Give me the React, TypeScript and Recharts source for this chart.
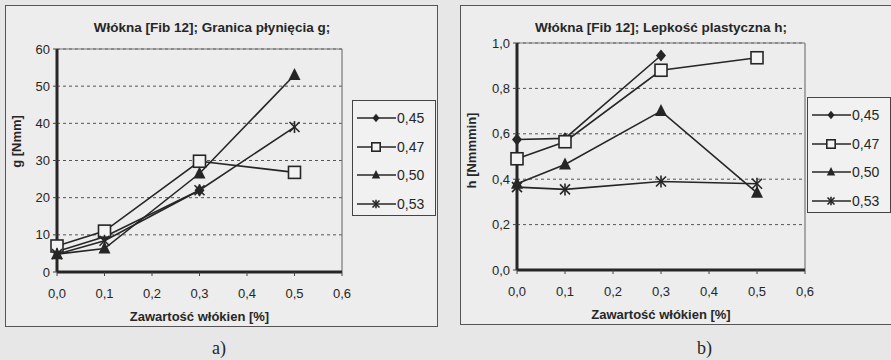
import React from "react";
import {
  LineChart,
  Line,
  XAxis,
  YAxis,
  CartesianGrid,
  ReferenceLine,
} from "recharts";

// fibre content [%]
const FIBRE = [0, 0.1, 0.3, 0.5];
const SERIES_NAMES = ["0,45", "0,47", "0,50", "0,53"];
const X_TICKS = [0, 0.1, 0.2, 0.3, 0.4, 0.5, 0.6];

// a) yield value g [Nmm]
const G_045 = [5.5, 9.5, 22, null];
const G_047 = [7, 11, 29.8, 26.8];
const G_050 = [4.8, 6.3, 26.5, 53];
const G_053 = [4.8, 8.4, 22, 39];
const G_TICKS = [0, 10, 20, 30, 40, 50, 60];

// b) plastic viscosity h [Nmmmin]
const H_045 = [0.575, 0.58, 0.945, null];
const H_047 = [0.49, 0.565, 0.88, 0.935];
const H_050 = [0.38, 0.465, 0.7, 0.34];
const H_053 = [0.365, 0.355, 0.39, 0.38];
const H_TICKS = [0, 0.2, 0.4, 0.6, 0.8, 1.0];

const KEYS = ["s45", "s47", "s50", "s53"];
const MARKERS = ["diamond", "square", "triangle", "cross"];
const FONT = '"Liberation Sans", Arial, sans-serif';
const INK = "#262626";

function buildRows(cols: (number | null)[][]) {
  return FIBRE.map((x, i) => ({
    x,
    s45: cols[0][i],
    s47: cols[1][i],
    s50: cols[2][i],
    s53: cols[3][i],
  }));
}

function Marker({ kind, cx, cy, s = 1 }: { kind: string; cx: number; cy: number; s?: number }) {
  if (kind === "diamond")
    return (
      <polygon
        points={`${cx},${cy - 6 * s} ${cx + 5 * s},${cy} ${cx},${cy + 6 * s} ${cx - 5 * s},${cy}`}
        fill={INK}
      />
    );
  if (kind === "square")
    return (
      <rect
        x={cx - 6 * s}
        y={cy - 6 * s}
        width={12 * s}
        height={12 * s}
        fill="#f3f3f3"
        stroke={INK}
        strokeWidth={1.6}
      />
    );
  if (kind === "triangle")
    return (
      <polygon
        points={`${cx},${cy - 7 * s} ${cx + 6 * s},${cy + 5 * s} ${cx - 6 * s},${cy + 5 * s}`}
        fill={INK}
      />
    );
  return (
    <g stroke={INK} strokeWidth={1.6}>
      <line x1={cx - 5 * s} y1={cy - 5 * s} x2={cx + 5 * s} y2={cy + 5 * s} />
      <line x1={cx - 5 * s} y1={cy + 5 * s} x2={cx + 5 * s} y2={cy - 5 * s} />
      <line x1={cx} y1={cy - 6 * s} x2={cx} y2={cy + 6 * s} />
    </g>
  );
}

function LegendBox({ left, top }: { left: number; top: number }) {
  return (
    <div
      style={{
        position: "absolute",
        left,
        top,
        width: 84,
        height: 116,
        border: "1.5px solid #444",
        background: "#f1f1f1",
        boxSizing: "border-box",
        fontFamily: FONT,
        fontSize: 14,
        color: INK,
      }}
    >
      {SERIES_NAMES.map((name, i) => (
        <div
          key={name}
          style={{ position: "absolute", left: 3, top: 9 + i * 28.5, height: 16, display: "flex", alignItems: "center" }}
        >
          <svg width={41} height={16}>
            <line x1={1} y1={8} x2={40} y2={8} stroke={INK} strokeWidth={1.6} />
            <Marker kind={MARKERS[i]} cx={20} cy={8} s={0.7} />
          </svg>
          <span>{name}</span>
        </div>
      ))}
    </div>
  );
}

type PanelProps = {
  left: number;
  width: number;
  height: number;
  rows: any[];
  yMax: number;
  yTicks: number[];
  yFmt: (v: number) => string;
  plotTop: number;
  plotRight: number;
  plotLeft: number;
  title: string;
  titleX: number;
  yLabel: string;
  yLabelY: number;
  legendLeft: number;
  legendTop: number;
};

function Panel(p: PanelProps) {
  return (
    <div
      style={{
        position: "absolute",
        left: p.left,
        top: 5,
        width: p.width,
        height: p.height,
        border: "1px solid #555",
        background: "#ededed",
        boxSizing: "border-box",
      }}
    >
      <LineChart
        width={p.width - 2}
        height={p.height - 2}
        data={p.rows}
        margin={{ top: p.plotTop, right: p.width - 2 - p.plotRight, bottom: 0, left: 0 }}
        style={{ fontFamily: FONT }}
      >
        <CartesianGrid vertical={false} strokeDasharray="3 3" stroke="#555" />
        <XAxis
          dataKey="x"
          type="number"
          domain={[0, 0.6]}
          ticks={X_TICKS}
          tickFormatter={(v: number) => v.toFixed(1).replace(".", ",")}
          height={54}
          axisLine={{ stroke: INK, strokeWidth: 3 }}
          tickLine={{ stroke: "#444" }}
          tickSize={4}
          tickMargin={13}
          tick={{ fontSize: 13, fill: INK }}
          label={{
            value: "Zawartość włókien [%]",
            position: "insideBottom",
            offset: 5,
            style: { fontSize: 13, fontWeight: "bold", fill: INK },
          }}
        />
        <YAxis
          type="number"
          domain={[0, p.yMax]}
          ticks={p.yTicks}
          tickFormatter={p.yFmt}
          width={p.plotLeft}
          axisLine={{ stroke: INK, strokeWidth: 3 }}
          tickLine={{ stroke: "#444" }}
          tickSize={4}
          tickMargin={3}
          tick={{ fontSize: 13, fill: INK }}
        />
        <ReferenceLine y={p.yMax} stroke="#777" strokeWidth={1.2} />
        <ReferenceLine x={0.6} stroke="#777" strokeWidth={1.2} />
        {KEYS.map((k, i) => (
          <Line
            key={k}
            dataKey={k}
            stroke={INK}
            strokeWidth={1.6}
            isAnimationActive={false}
            connectNulls={false}
            dot={(d: any) =>
              d.value == null || d.cx == null ? (
                <g key={d.key} />
              ) : (
                <g key={d.key}>
                  <Marker kind={MARKERS[i]} cx={d.cx} cy={d.cy} />
                </g>
              )
            }
          />
        ))}
      </LineChart>
      <div
        style={{
          position: "absolute",
          left: p.titleX - 150,
          width: 300,
          top: 14,
          textAlign: "center",
          fontFamily: FONT,
          fontSize: 13.5,
          fontWeight: "bold",
          color: INK,
        }}
      >
        {p.title}
      </div>
      <div
        style={{
          position: "absolute",
          left: 10 - 60,
          width: 120,
          top: p.yLabelY - 8,
          textAlign: "center",
          transform: "rotate(-90deg)",
          fontFamily: FONT,
          fontSize: 13,
          fontWeight: "bold",
          color: INK,
        }}
      >
        {p.yLabel}
      </div>
      <LegendBox left={p.legendLeft} top={p.legendTop} />
    </div>
  );
}

export default function App() {
  const gRows = buildRows([G_045, G_047, G_050, G_053]);
  const hRows = buildRows([H_045, H_047, H_050, H_053]);
  return (
    <div
      style={{
        position: "absolute",
        left: 0,
        top: 0,
        width: 891,
        height: 360,
        overflow: "hidden",
        background: "#e7e7e7",
      }}
    >
      <Panel
        left={5}
        width={433}
        height={322}
        rows={gRows}
        yMax={60}
        yTicks={G_TICKS}
        yFmt={(v) => String(v)}
        plotTop={43}
        plotRight={336}
        plotLeft={51}
        title="Włókna [Fib 12]; Granica płynięcia g;"
        titleX={206}
        yLabel="g [Nmm]"
        yLabelY={136}
        legendLeft={346}
        legendTop={94}
      />
      <Panel
        left={460}
        width={440}
        height={320}
        rows={hRows}
        yMax={1.0}
        yTicks={H_TICKS}
        yFmt={(v) => v.toFixed(1).replace(".", ",")}
        plotTop={37}
        plotRight={344}
        plotLeft={56}
        title="Włókna [Fib 12]; Lepkość plastyczna h;"
        titleX={200}
        yLabel="h [Nmmmin]"
        yLabelY={145}
        legendLeft={346}
        legendTop={91}
      />
      <div style={{ position: "absolute", left: 212, top: 338, fontFamily: "serif", fontSize: 18, color: INK }}>a)</div>
      <div style={{ position: "absolute", left: 697, top: 338, fontFamily: "serif", fontSize: 18, color: INK }}>b)</div>
    </div>
  );
}
